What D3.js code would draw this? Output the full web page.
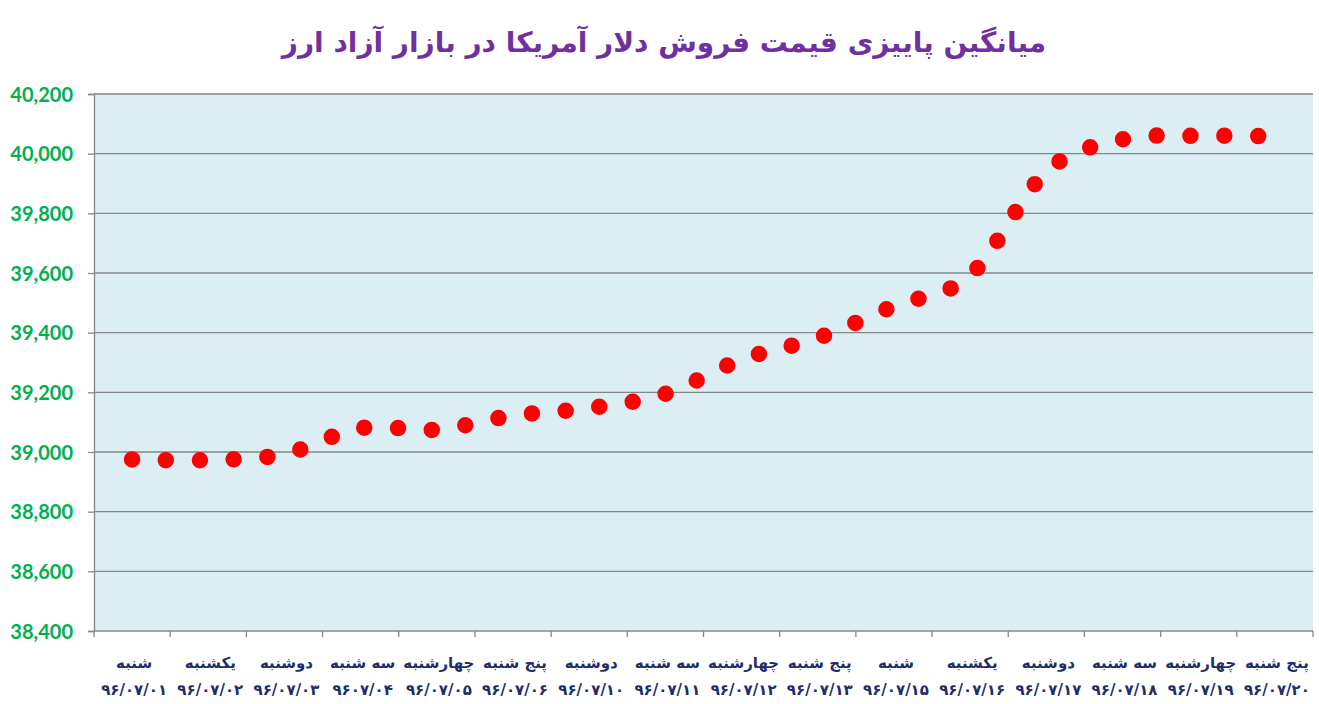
<!DOCTYPE html>
<meta charset="utf-8">
<script src="https://d3js.org/d3.v7.min.js"></script>
<style>
  body { margin: 0; background: #fff; }
</style>
<div id="chart"></div>
<script>
  // data
  var days = ["شنبه", "یکشنبه", "دوشنبه", "سه شنبه", "چهارشنبه", "پنج شنبه", "دوشنبه", "سه شنبه",
    "چهارشنبه", "پنج شنبه", "شنبه", "یکشنبه", "دوشنبه", "سه شنبه", "چهارشنبه", "پنج شنبه"];
  var dates = ["۹۶/۰۷/۰۱", "۹۶/۰۷/۰۲", "۹۶/۰۷/۰۳", "۹۶۰۷/۰۴", "۹۶/۰۷/۰۵", "۹۶/۰۷/۰۶", "۹۶/۰۷/۱۰", "۹۶/۰۷/۱۱",
    "۹۶/۰۷/۱۲", "۹۶/۰۷/۱۳", "۹۶/۰۷/۱۵", "۹۶/۰۷/۱۶", "۹۶/۰۷/۱۷", "۹۶/۰۷/۱۸", "۹۶/۰۷/۱۹", "۹۶/۰۷/۲۰"];
  var prices = [38975, 38973, 38993, 39080, 39075, 39122, 39147, 39195,
    39310, 39382, 39489, 39592, 39940, 40048, 40060, 40058];
  var yTicks = [38400, 38600, 38800, 39000, 39200, 39400, 39600, 39800, 40000, 40200];
  var title = "میانگین پاییزی قیمت فروش دلار آمریکا در بازار آزاد ارز";

  var W = 1319, H = 704;
  var margin = { top: 94, right: 6, bottom: 73, left: 94 };
  var width = W - margin.left - margin.right,
    height = H - margin.top - margin.bottom;

  var svg = d3.select("#chart").append("svg")
    .attr("width", W).attr("height", H);

  svg.append("text")
    .attr("x", 664).attr("y", 52)
    .attr("text-anchor", "middle")
    .style("font-family", "'DejaVu Sans', sans-serif")
    .style("font-weight", "bold")
    .style("font-size", "28px")
    .style("fill", "#7030A0")
    .text(title);

  var g = svg.append("g")
    .attr("transform", "translate(" + margin.left + "," + margin.top + ")");

  var x = d3.scaleBand().domain(d3.range(days.length)).range([0, width]).padding(0);
  var y = d3.scaleLinear().domain([38400, 40200]).range([height, 0]);

  // plot background
  g.append("rect")
    .attr("width", width).attr("height", height)
    .attr("fill", "#DAEEF3");

  // gridlines
  g.append("g")
    .selectAll("line")
    .data(yTicks.slice(1))
    .enter().append("line")
    .attr("x1", 0).attr("x2", width)
    .attr("y1", function (d) { return y(d); })
    .attr("y2", function (d) { return y(d); })
    .attr("stroke", "#868686").attr("stroke-width", 1.3);

  // y axis
  var yAxis = g.append("g")
    .call(d3.axisLeft(y).tickValues(yTicks).tickSize(6).tickPadding(15).tickFormat(d3.format(",")));
  yAxis.select(".domain").attr("stroke", "#868686").attr("stroke-width", 1.3);
  yAxis.selectAll(".tick line").attr("stroke", "#868686").attr("stroke-width", 1.3);
  yAxis.selectAll("text")
    .style("font-family", "Lato, sans-serif")
    .style("font-size", "20px")
    .style("font-weight", "bold")
    .style("fill", "#00B050")
    .attr("dy", "0.36em");

  // x axis (ticks at category boundaries)
  var xAxis = g.append("g").attr("transform", "translate(0," + height + ")");
  xAxis.append("line")
    .attr("x1", 0).attr("x2", width)
    .attr("stroke", "#868686").attr("stroke-width", 1.3);
  xAxis.selectAll(".tk")
    .data(d3.range(days.length + 1))
    .enter().append("line")
    .attr("class", "tk")
    .attr("x1", function (i) { return i * x.bandwidth(); })
    .attr("x2", function (i) { return i * x.bandwidth(); })
    .attr("y1", 0).attr("y2", 6)
    .attr("stroke", "#868686").attr("stroke-width", 1.3);

  var lab = xAxis.selectAll(".lab")
    .data(days)
    .enter().append("g")
    .attr("class", "lab")
    .attr("transform", function (d, i) { return "translate(" + (x(i) + x.bandwidth() / 2 + 2) + ",0)"; })
    .style("font-family", "'DejaVu Sans', sans-serif")
    .style("font-weight", "bold")
    .style("fill", "#1F2D6B")
    .attr("text-anchor", "middle");
  lab.append("text").attr("y", 37).style("font-size", "15px").text(function (d) { return d; });
  lab.append("text").attr("y", 64).style("font-size", "15px").text(function (d, i) { return dates[i]; });

  // smoothed round-dot line
  var line = d3.line()
    .x(function (d, i) { return x(i) + x.bandwidth() / 2; })
    .y(function (d) { return y(d); })
    .curve(d3.curveCardinal.tension(0));

  g.append("path")
    .datum(prices)
    .attr("d", line)
    .attr("fill", "none")
    .attr("stroke", "#FF0000")
    .attr("stroke-width", 16.5)
    .attr("stroke-linecap", "round")
    .attr("stroke-dasharray", "0 33.85");
</script>
